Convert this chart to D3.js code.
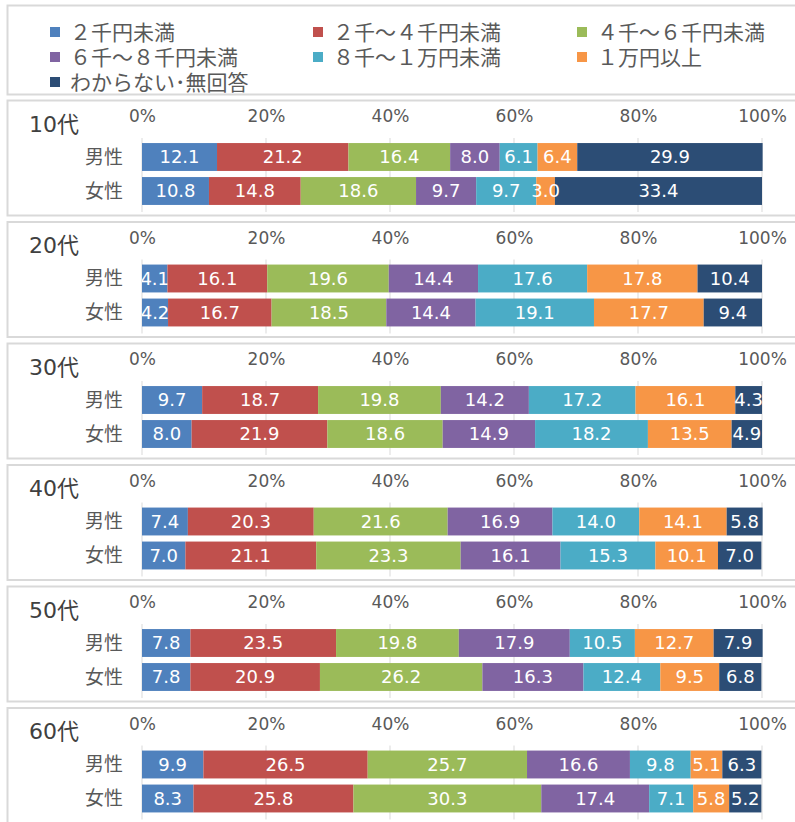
<!DOCTYPE html>
<html>
<head>
<meta charset="utf-8">
<script src="https://cdn.jsdelivr.net/npm/d3@7"></script>
<style>
  body { margin: 0; background: #fff; }
  svg { display: block; font-family: "DejaVu Sans", "Noto Sans CJK JP", sans-serif; }
</style>
</head>
<body>
<script>
// // DATA ////////////////////////////////////////////////////////////////////

const categories = ['２千円未満', '２千～４千円未満', '４千～６千円未満',
  '６千～８千円未満', '８千～１万円未満', '１万円以上', 'わからない･無回答'];
const colors = ['#4F81BD', '#C0504D', '#9BBB59', '#8064A2', '#4BACC6', '#F79646', '#2C4D75'];

const ages = ['10代', '20代', '30代', '40代', '50代', '60代'];
const genders = ['男性', '女性'];
const ticks = [0, 20, 40, 60, 80, 100];

// one row per age group, values in category order
const male = [
  [12.1, 21.2, 16.4, 8.0, 6.1, 6.4, 29.9],
  [4.1, 16.1, 19.6, 14.4, 17.6, 17.8, 10.4],
  [9.7, 18.7, 19.8, 14.2, 17.2, 16.1, 4.3],
  [7.4, 20.3, 21.6, 16.9, 14.0, 14.1, 5.8],
  [7.8, 23.5, 19.8, 17.9, 10.5, 12.7, 7.9],
  [9.9, 26.5, 25.7, 16.6, 9.8, 5.1, 6.3]
];
const female = [
  [10.8, 14.8, 18.6, 9.7, 9.7, 3.0, 33.4],
  [4.2, 16.7, 18.5, 14.4, 19.1, 17.7, 9.4],
  [8.0, 21.9, 18.6, 14.9, 18.2, 13.5, 4.9],
  [7.0, 21.1, 23.3, 16.1, 15.3, 10.1, 7.0],
  [7.8, 20.9, 26.2, 16.3, 12.4, 9.5, 6.8],
  [8.3, 25.8, 30.3, 17.4, 7.1, 5.8, 5.2]
];

// // LAYOUT //////////////////////////////////////////////////////////////////

const width = 795;
const height = 822;
const panelTop = 100;
const panelStep = 121.5;
const panelHeight = 115;

const svg = d3.select('body')
  .append('svg')
  .attr('width', width)
  .attr('height', height);

const x = d3.scaleLinear().domain([0, 100]).range([142, 762]);
const color = d3.scaleOrdinal().domain(categories).range(colors);

svg.append('clipPath')
  .attr('id', 'plot-clip')
  .append('rect')
  .attr('x', x(0))
  .attr('y', 0)
  .attr('width', x(100) - x(0) + 2)
  .attr('height', height);

// legend
const legend = svg.append('g');
legend.append('rect')
  .attr('x', 7.5).attr('y', 5.5)
  .attr('width', width + 10).attr('height', 89)
  .attr('fill', '#fff')
  .attr('stroke', '#d9d9d9')
  .attr('stroke-width', 2);

const legendCols = [50, 313, 577];
const legendItem = legend.selectAll('g.item')
  .data(categories)
  .enter()
  .append('g')
  .attr('class', 'item')
  .attr('transform', (d, i) => `translate(${legendCols[i % 3]}, ${32 + Math.floor(i / 3) * 25})`);

legendItem.append('rect')
  .attr('x', 0).attr('y', -5)
  .attr('width', 10).attr('height', 10)
  .attr('fill', d => color(d));

legendItem.append('text')
  .attr('x', 20)
  .attr('dy', '0.36em')
  .attr('font-size', 21)
  .attr('font-family', '"Noto Sans CJK JP", sans-serif')
  .attr('fill', '#595959')
  .text(d => d);

// panels
ages.forEach((age, i) => {
  const top = panelTop + i * panelStep;
  const g = svg.append('g');

  g.append('rect')
    .attr('x', 7.5).attr('y', top + 0.5)
    .attr('width', width + 10).attr('height', panelHeight)
    .attr('fill', '#fff')
    .attr('stroke', '#d9d9d9')
    .attr('stroke-width', 2);

  const y = d3.scaleBand()
    .domain(genders)
    .range([top + 40, top + 108])
    .paddingInner(0.18)
    .paddingOuter(0.09);

  // gridlines
  g.selectAll('line.grid')
    .data(ticks)
    .enter()
    .append('line')
    .attr('class', 'grid')
    .attr('x1', d => x(d)).attr('x2', d => x(d))
    .attr('y1', top + 38).attr('y2', top + 112)
    .attr('stroke', '#d9d9d9')
    .attr('stroke-width', 1);

  // top axis labels
  const axis = d3.axisTop(x)
    .tickValues(ticks)
    .tickFormat(d => d + '%')
    .tickSize(0)
    .tickPadding(0);

  const ax = g.append('g')
    .attr('transform', `translate(0, ${top + 22})`)
    .call(axis);
  ax.select('.domain').remove();
  ax.selectAll('text')
    .attr('font-size', 17)
    .attr('font-family', '"DejaVu Sans", sans-serif')
    .attr('fill', '#595959');

  // age label
  g.append('text')
    .attr('x', 29)
    .attr('y', top + 24)
    .attr('dy', '0.35em')
    .attr('font-size', 22)
    .attr('fill', '#404040')
    .text(age);

  // gender labels
  g.selectAll('text.gender')
    .data(genders)
    .enter()
    .append('text')
    .attr('class', 'gender')
    .attr('x', 123)
    .attr('y', d => y(d) + y.bandwidth() / 2)
    .attr('dy', '0.35em')
    .attr('text-anchor', 'end')
    .attr('font-size', 19)
    .attr('font-family', '"Noto Sans CJK JP", sans-serif')
    .attr('fill', '#595959')
    .text(d => d);

  const rows = [male[i], female[i]];
  rows.forEach((vals, r) => {
    const gender = genders[r];
    let acc = 0;
    const segs = vals.map((v, k) => {
      const s = { cat: categories[k], value: v, x0: acc, x1: acc + v };
      acc += v;
      return s;
    });

    const row = g.append('g').attr('clip-path', 'url(#plot-clip)');

    row.selectAll('rect')
      .data(segs)
      .enter()
      .append('rect')
      .attr('x', d => x(d.x0))
      .attr('y', y(gender))
      .attr('width', d => x(d.x1) - x(d.x0))
      .attr('height', y.bandwidth())
      .attr('fill', d => color(d.cat));

    row.selectAll('text')
      .data(segs)
      .enter()
      .append('text')
      .attr('x', d => x((d.x0 + d.x1) / 2))
      .attr('y', y(gender) + y.bandwidth() / 2)
      .attr('dy', '0.36em')
      .attr('text-anchor', 'middle')
      .attr('font-size', 18)
      .attr('fill', '#fff')
      .text(d => d3.format('.1f')(d.value));
  });
});
</script>
</body>
</html>
